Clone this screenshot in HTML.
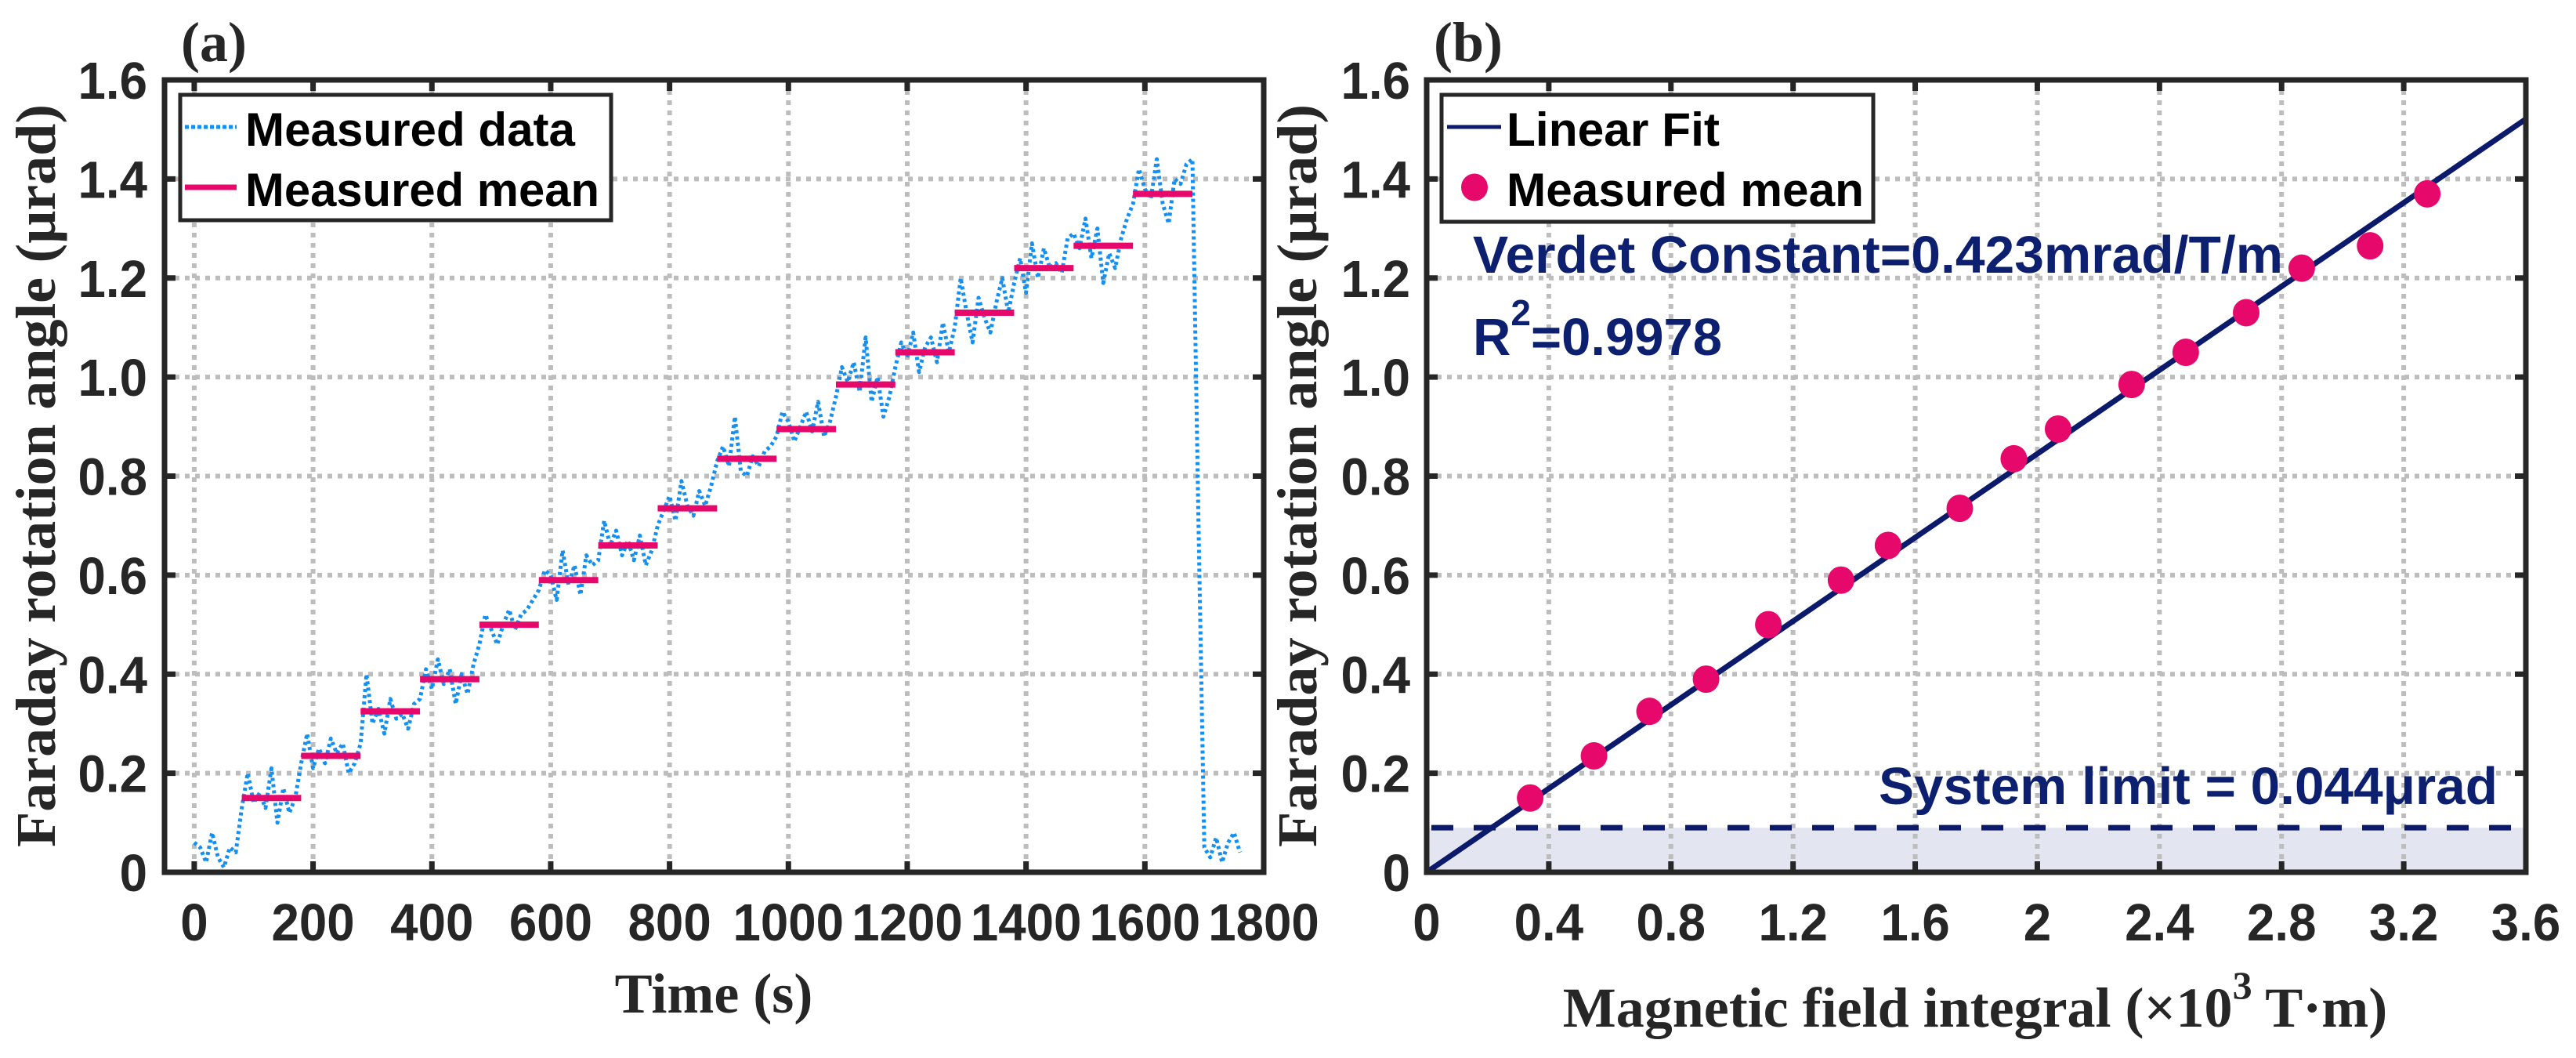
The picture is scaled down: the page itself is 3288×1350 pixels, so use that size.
<!DOCTYPE html>
<html><head><meta charset="utf-8"><style>
html,body{margin:0;padding:0;background:#fff;}
svg{display:block;}
.tk{font-family:"Liberation Sans",Arial,sans-serif;font-weight:bold;font-size:67px;fill:#262626;}
.ttl{font-family:"Liberation Serif","Times New Roman",serif;font-weight:bold;font-size:72px;fill:#262626;}
.lg{font-family:"Liberation Sans",Arial,sans-serif;font-weight:bold;font-size:60px;fill:#000;}
.an{font-family:"Liberation Sans",Arial,sans-serif;font-weight:bold;font-size:67px;fill:#0d1f6f;}
</style></head><body>
<svg id="fig" width="3288" height="1350" viewBox="0 0 3288 1350" xmlns="http://www.w3.org/2000/svg">
<g id="pa"></g>
<g id="pb"></g>
</svg>
<script>
// ---- Panel (a) data ----
const measuredData = [0.06,0.05,0.02,0.08,0.03,0.01,0.05,0.04,
0.13,0.20,0.14,0.16,0.13,0.21,0.10,0.17,0.12,0.15,
0.22,0.28,0.21,0.25,0.22,0.27,0.24,0.26,0.20,0.22,
0.26,0.40,0.30,0.33,0.28,0.35,0.31,0.32,0.29,0.34,
0.35,0.41,0.37,0.43,0.38,0.41,0.34,0.40,0.36,0.42,
0.46,0.52,0.49,0.46,0.50,0.53,0.49,0.52,0.53,0.55,
0.57,0.61,0.60,0.55,0.65,0.58,0.62,0.56,0.64,0.62,
0.63,0.71,0.66,0.69,0.64,0.67,0.63,0.68,0.62,0.65,
0.70,0.73,0.76,0.71,0.79,0.74,0.72,0.77,0.74,0.78,
0.83,0.86,0.82,0.92,0.81,0.80,0.84,0.82,0.85,0.86,
0.88,0.93,0.91,0.87,0.90,0.93,0.89,0.95,0.88,0.91,
0.96,1.02,0.99,1.03,0.97,1.08,0.95,1.00,0.92,0.96,
1.02,1.07,1.04,1.09,1.01,1.06,1.08,1.03,1.11,1.05,
1.10,1.20,1.13,1.07,1.16,1.12,1.09,1.15,1.20,1.13,
1.19,1.24,1.17,1.27,1.20,1.26,1.22,1.23,1.21,1.28,
1.29,1.26,1.32,1.24,1.30,1.19,1.25,1.22,1.28,1.32,
1.35,1.42,1.38,1.36,1.44,1.35,1.31,1.40,1.39,1.43,1.44,
0.72,0.05,0.03,0.07,0.02,0.06,0.08,0.04];
const sampleStep = 10;
const meanStart = [80,180,280,380,480,580,680,780,880,980,1080,1180,1280,1380,1480,1580];
const meanEnd   = [180,280,380,480,580,680,780,880,980,1080,1180,1280,1380,1480,1580,1680];
const meanValues = [0.15,0.235,0.325,0.39,0.50,0.59,0.66,0.735,0.835,0.895,0.985,1.05,1.13,1.22,1.265,1.37];
const aXTicks = [0,200,400,600,800,1000,1200,1400,1600,1800];
const aXTickLabels = ["0","200","400","600","800","1000","1200","1400","1600","1800"];
const yTicks = [0,0.2,0.4,0.6,0.8,1.0,1.2,1.4,1.6];
const yTickLabels = ["0","0.2","0.4","0.6","0.8","1.0","1.2","1.4","1.6"];
// ---- Panel (b) data ----
const fieldIntegral = [0.339,0.548,0.730,0.915,1.119,1.357,1.511,1.746,1.923,2.068,2.309,2.486,2.684,2.866,3.090,3.277];
const fitSlope = [0.4225];
const systemLimit = [0.09];
const bXTicks = [0,0.4,0.8,1.2,1.6,2,2.4,2.8,3.2,3.6];
const bXTickLabels = ["0","0.4","0.8","1.2","1.6","2","2.4","2.8","3.2","3.6"];

const NS="http://www.w3.org/2000/svg";
function mk(parent,tag,attrs){const e=document.createElementNS(NS,tag);for(const k in attrs)e.setAttribute(k,attrs[k]);parent.appendChild(e);return e;}
const T=102,B=1113;
const yS=v=>B-(v/1.6)*(B-T);

function axesFrame(g,L,R,xs,xTicks,xLabels,gridX){
  // grid
  gridX.forEach(v=>{const x=xs(v);
    const l=mk(g,'line',{x1:x,x2:x,y1:T,y2:B,stroke:'#bdbdbd','stroke-width':6,'stroke-dasharray':'6 7'});
    
    });
  yTicks.slice(1,-1).forEach(v=>{const y=yS(v);
    const l=mk(g,'line',{x1:L,x2:R,y1:y,y2:y,stroke:'#bdbdbd','stroke-width':6,'stroke-dasharray':'6 7'});
    
    });
}
function axesBox(g,L,R,xs,xTicks,xLabels,yLabelRight){
  const box=mk(g,'rect',{x:L,y:T,width:R-L,height:B-T,fill:'none',stroke:'#262626','stroke-width':7});
  
  
  xTicks.forEach((v,i)=>{const x=xs(v);
    mk(g,'line',{x1:x,x2:x,y1:B,y2:B-14,stroke:'#262626','stroke-width':7});
    mk(g,'line',{x1:x,x2:x,y1:T,y2:T+14,stroke:'#262626','stroke-width':7});
    const t=mk(g,'text',{class:'tk','text-anchor':'middle',transform:`translate(${x},1200) scale(0.95,1)`});
    t.textContent=xLabels[i];
    
    });
  yTicks.forEach((v,i)=>{const y=yS(v);
    mk(g,'line',{x1:L,x2:L+14,y1:y,y2:y,stroke:'#262626','stroke-width':7});
    mk(g,'line',{x1:R,x2:R-14,y1:y,y2:y,stroke:'#262626','stroke-width':7});
    const t=mk(g,'text',{class:'tk','text-anchor':'end',transform:`translate(${yLabelRight},${y+24}) scale(0.95,1)`});
    t.textContent=yTickLabels[i];
    
    });
}

// ===== Panel A =====
const ga=document.getElementById('pa');
const aL=210,aR=1613;
const xa=v=>aL+(v+50)/1850*(aR-aL);
axesFrame(ga,aL,aR,xa,aXTicks,aXTickLabels,[0,200,400,600,800,1000,1200,1400,1600]);
let d='';
measuredData.forEach((v,i)=>{d+=(i?'L':'M')+xa(i*sampleStep).toFixed(1)+','+yS(v).toFixed(1);});
const ln=mk(ga,'path',{d:d,fill:'none',stroke:'#1590f0','stroke-width':5,'stroke-dasharray':'4 4','stroke-linejoin':'round'});


meanValues.forEach((v,i)=>{
  const l=mk(ga,'line',{x1:xa(meanStart[i]),x2:xa(meanEnd[i]),y1:yS(v),y2:yS(v),stroke:'#e6086a','stroke-width':8});
  
  
});
axesBox(ga,aL,aR,xa,aXTicks,aXTickLabels,188);
</script>
<script>
// legend a + labels
(function(){
const ga=document.getElementById('pa');
const lg=mk(ga,'g',{});


mk(lg,'rect',{x:230,y:121,width:550,height:160,fill:'#fff',stroke:'#262626','stroke-width':5});
mk(lg,'line',{x1:236,x2:302,y1:162,y2:162,stroke:'#1590f0','stroke-width':5,'stroke-dasharray':'5 3'});
mk(lg,'line',{x1:236,x2:302,y1:239,y2:239,stroke:'#e6086a','stroke-width':7});
let t=mk(lg,'text',{class:'lg',x:313,y:186,textLength:421,lengthAdjust:'spacingAndGlyphs'});t.textContent='Measured data';


t=mk(lg,'text',{class:'lg',x:313,y:263,textLength:452,lengthAdjust:'spacingAndGlyphs'});t.textContent='Measured mean';


t=mk(ga,'text',{class:'ttl','text-anchor':'middle',x:911,y:1292});t.textContent='Time (s)';


t=mk(ga,'text',{class:'ttl','text-anchor':'middle',transform:'translate(70,607) rotate(-90)',textLength:948,lengthAdjust:'spacingAndGlyphs'});t.textContent='Faraday rotation angle (μrad)';


t=mk(ga,'text',{class:'ttl',x:231,y:78,'font-size':'66'});t.textContent='(a)';


})();

// ===== Panel B =====
(function(){
const gb=document.getElementById('pb');
const bL=1821,bR=3224;
const xb=v=>bL+v/3.6*(bR-bL);
const sh=mk(gb,'rect',{x:bL,y:yS(systemLimit[0]),width:bR-bL,height:B-yS(systemLimit[0]),fill:'#e3e6f0'});


axesFrame(gb,bL,bR,xb,bXTicks,bXTickLabels,[0.4,0.8,1.2,1.6,2,2.4,2.8,3.2]);
const dl=mk(gb,'line',{x1:bL+6,x2:bR-8,y1:yS(systemLimit[0]),y2:yS(systemLimit[0]),stroke:'#0b1a6b','stroke-width':7,'stroke-dasharray':'28 26'});


const fl=mk(gb,'line',{x1:xb(0),y1:yS(0),x2:xb(3.6),y2:yS(fitSlope[0]*3.6),stroke:'#0b1a6b','stroke-width':7});


fieldIntegral.forEach((v,i)=>{
  const c=mk(gb,'ellipse',{cx:xb(v),cy:yS(meanValues[i]),rx:17,ry:17.5,fill:'#e6086a'});
  
  
});
axesBox(gb,bL,bR,xb,bXTicks,bXTickLabels,1800);
const lg=mk(gb,'g',{});


mk(lg,'rect',{x:1840,y:121,width:551,height:162,fill:'#fff',stroke:'#262626','stroke-width':5});
mk(lg,'line',{x1:1847,x2:1916,y1:162,y2:162,stroke:'#0b1a6b','stroke-width':5});
mk(lg,'ellipse',{cx:1882,cy:239,rx:17,ry:17.5,fill:'#e6086a'});
let t=mk(lg,'text',{class:'lg',x:1923,y:186,textLength:272,lengthAdjust:'spacingAndGlyphs'});t.textContent='Linear Fit';


t=mk(lg,'text',{class:'lg',x:1923,y:263,textLength:456,lengthAdjust:'spacingAndGlyphs'});t.textContent='Measured mean';


t=mk(gb,'text',{class:'an',x:1880,y:348,textLength:1034,lengthAdjust:'spacingAndGlyphs'});t.textContent='Verdet Constant=0.423mrad/T/m';


t=mk(gb,'text',{class:'an',x:1880,y:453});


t.innerHTML='R<tspan font-size="46" dy="-38">2</tspan><tspan dy="38">=0.9978</tspan>';
t=mk(gb,'text',{class:'an',x:2398,y:1026,textLength:790,lengthAdjust:'spacingAndGlyphs'});t.textContent='System limit = 0.044μrad';


t=mk(gb,'text',{class:'ttl','text-anchor':'middle',x:2521,y:1310});


t.innerHTML='Magnetic field integral (×10<tspan font-size="50" dy="-36">3</tspan><tspan dy="36"> T·m)</tspan>';
t=mk(gb,'text',{class:'ttl','text-anchor':'middle',transform:'translate(1680,607) rotate(-90)',textLength:948,lengthAdjust:'spacingAndGlyphs'});t.textContent='Faraday rotation angle (μrad)';


t=mk(gb,'text',{class:'ttl',x:1830,y:78,'font-size':'66'});t.textContent='(b)';


})();
</script>
</body></html>
